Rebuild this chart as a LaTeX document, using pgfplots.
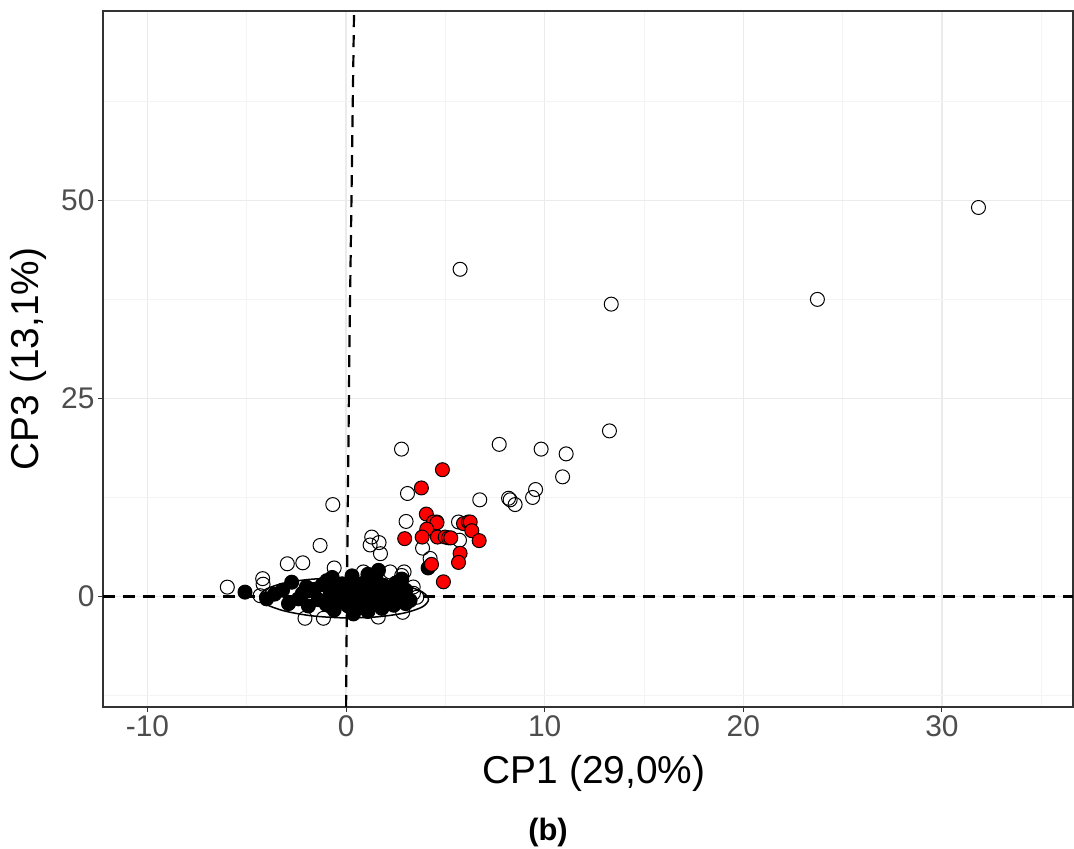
\documentclass[border=0pt]{standalone}
\usepackage{pgfplots}
\pgfplotsset{compat=1.18}
\usepackage{fontspec}
\setmainfont{Liberation Sans}

\definecolor{gridmaj}{HTML}{EBEBEB}
\definecolor{gridmin}{HTML}{F4F4F4}
\definecolor{framecol}{HTML}{333333}
\definecolor{ticklab}{HTML}{4D4D4D}
\definecolor{grpred}{HTML}{FF0000}

\begin{document}
\begin{tikzpicture}
\begin{axis}[
  scale only axis, width=970bp, height=696bp,
  xmin=-12.24, xmax=36.6, ymin=-13.95, ymax=73.9,
  xtick={-10,0,10,20,30}, ytick={0,25,50},
  minor xtick={-5,5,15,25,35}, minor ytick={-12.5,12.5,37.5,62.5},
  grid=both,
  major grid style={gridmaj, line width=1.4bp},
  minor grid style={gridmin, line width=0.8bp},
  axis line style={framecol, line width=1.1bp},
  tick style={framecol, line width=1bp},
  major tick length=5bp, minor tick length=0pt,
  tick align=outside, xtick pos=lower, ytick pos=left,
  tick label style={font=\fontsize{30}{36}\selectfont, text=ticklab},
  /pgf/number format/assume math mode=true,
  xlabel={CP1 (29,0\%)}, ylabel={CP3 (13,1\%)},
  label style={font=\fontsize{39}{46}\selectfont},
  xlabel style={at={(axis description cs:0.5062,-0.1092)}, anchor=base},
  ylabel style={at={(axis description cs:-0.066,0.5)}, anchor=base},
  clip=true,
]

% reference lines
\addplot[black, line width=2.2bp, dash pattern=on 12bp off 8bp] coordinates {(-12.24,0) (36.6,0)};
\addplot[black, line width=2.2bp, dash pattern=on 12bp off 8bp] coordinates {(0,-13.95) (0.04,0) (0.17,32) (0.4,73.9)};

% other samples (hollow)
\addplot[only marks, mark=o, mark size=7bp, mark options={draw=black, line width=1bp}] table {
x y
31.84 49.1
23.73 37.5
13.35 36.9
5.74 41.3
13.26 20.9
7.71 19.2
9.82 18.6
11.08 18.0
10.9 15.1
9.54 13.5
9.39 12.5
8.18 12.4
8.26 12.2
8.51 11.6
6.73 12.2
2.79 18.6
3.09 13.0
-0.67 11.6
3.02 9.47
3.85 6.1
4.23 4.8
4.57 9.4
5.66 9.4
5.71 7.1
-1.31 6.44
-2.96 4.13
-2.18 4.25
-0.6 3.6
-5.98 1.18
-4.2 2.25
-4.18 1.55
-4.33 0.1
1.29 7.5
1.21 6.5
1.66 6.8
1.73 5.4
0.87 3.1
2.22 3.1
2.8 2.65
2.92 3.1
-2.07 -2.75
-1.14 -2.75
1.62 -2.6
2.85 -2.0
3.38 1.2
3.56 -0.1
3.39 0.4
};

% main group
\addplot[only marks, mark=*, mark size=7bp, mark options={fill=black, draw=black, line width=1bp}] table {
x y
-5.09 0.55
-4.0 -0.3
-3.6 0.3
-3.2 0.8
-2.74 1.8
-2.9 -0.9
-2.4 -0.3
-2.2 0.4
-1.9 -1.2
-2.0 1.2
-1.6 0.9
-1.4 -0.4
-1.2 1.5
-0.97 2.0
-1.0 -1.0
-0.8 0.3
-0.7 2.4
-0.6 -1.7
-0.5 1.0
-0.3 -0.5
-0.2 1.6
0.0 0.2
0.1 -1.2
0.2 0.9
0.3 2.6
0.37 -2.2
0.4 -0.4
0.5 1.5
0.6 -1.4
0.8 0.4
0.9 -0.8
1.0 1.9
1.1 2.8
1.1 -1.9
1.2 0.0
1.3 1.1
1.4 -0.9
1.5 2.4
1.63 3.3
1.7 0.5
1.8 -1.5
1.9 1.4
2.0 -0.4
2.2 0.9
2.4 -1.1
2.5 1.7
2.8 2.2
2.7 0.2
3.0 -0.9
3.22 -0.5
3.0 0.8
4.13 3.6
};

% red group
\addplot[only marks, mark=*, mark size=7bp, mark options={fill=grpred, draw=black, line width=1bp}] table {
x y
4.85 16.0
3.79 13.7
4.04 10.4
4.4 9.4
4.57 9.3
4.06 8.5
2.95 7.3
3.83 7.5
4.6 7.5
4.99 7.5
5.16 7.4
5.27 7.4
5.91 9.2
6.16 9.4
6.25 9.4
6.33 8.3
6.7 7.05
5.74 5.45
5.66 4.3
4.3 4.05
4.9 1.85
};

% confidence ellipse of the main group
\addplot[black, line width=1.5bp, smooth cycle] coordinates {
(4.15,-0.39) (3.83,0.58) (2.90,1.43) (1.53,2.04) (-0.1,2.3) (-1.73,2.18)
(-3.10,1.70) (-4.03,0.93) (-4.35,-0.01) (-4.03,-0.98) (-3.10,-1.83)
(-1.73,-2.44) (-0.1,-2.7) (1.53,-2.58) (2.90,-2.10) (3.83,-1.33)
};
\end{axis}
\node[anchor=base, font=\bfseries\fontsize{31}{37}\selectfont]
  at ([xshift=445bp,yshift=-133bp]current axis.south west) {(b)};
\pgfresetboundingbox
\useasboundingbox ([xshift=-103bp,yshift=-142bp]current axis.south west)
  rectangle ([xshift=1bp,yshift=11bp]current axis.north east);
\end{tikzpicture}
\end{document}
